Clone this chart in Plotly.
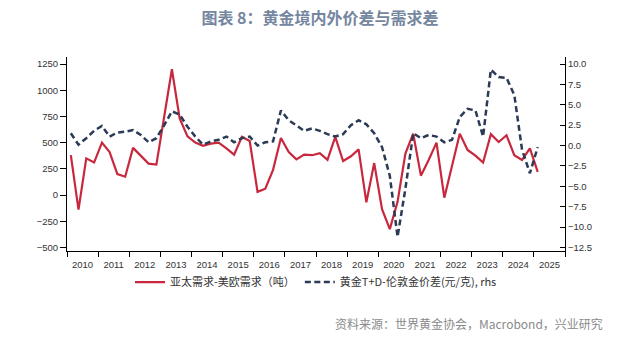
import pandas as pd
import plotly.graph_objects as go

quarters = [str(p) for p in pd.period_range("2010Q1", "2025Q1", freq="Q")]

demand_gap = [380, -140, 350, 310, 500, 410, 200, 175, 450, 370, 300, 290,
              740, 1200, 730, 560, 500, 470, 490, 500, 445, 385, 555, 515,
              30, 60, 240, 545, 410, 340, 385, 380, 400, 335, 555, 325,
              370, 435, -70, 305, -135, -325, -65, 395, 585, 185, 335, 500,
              -25, 270, 585, 430, 375, 310, 580, 505, 570, 380, 335, 445, 220]

price_gap = [1.5, 0.1, 0.9, 1.8, 2.4, 1.1, 1.6, 1.7, 1.9, 1.3, 0.4, 0.9,
             2.5, 4.2, 3.8, 2.3, 1.1, 0.1, 0.5, 0.7, 1.1, 0.4, 0.9, 1.1,
             0.0, 0.4, 0.5, 4.3, 3.1, 2.5, 1.8, 2.1, 1.8, 1.4, 1.1, 1.4,
             2.5, 3.1, 2.6, 1.5, -0.2, -3.7, -11.2, -5.3, 1.5, 0.9, 1.3, 1.1,
             0.4, 0.7, 3.5, 4.5, 4.3, 1.1, 9.3, 8.4, 8.3, 6.2, -0.5, -3.4, -0.2]

left_ticks = [-500, -250, 0, 250, 500, 750, 1000, 1250]
right_ticks = [-12.5, -10.0, -7.5, -5.0, -2.5, 0.0, 2.5, 5.0, 7.5, 10.0]

name_red = "亚太需求-美欧需求（吨）"
name_blue = "黄金T+D-伦敦金价差(元/克), rhs"
title_text = "图表 8：黄金境内外价差与需求差"
source_text = "资料来源：世界黄金协会，Macrobond，兴业研究"

# mid-quarter dates
x_dates = [pd.Period(q, freq="Q").start_time + pd.Timedelta(days=45) for q in quarters]

RED = "#C8283E"
NAVY = "#2B3A55"
FONT = "Noto Sans CJK SC"

fig = go.Figure()
fig.add_trace(go.Scatter(x=x_dates, y=demand_gap, name=name_red, mode="lines",
                         line=dict(color=RED, width=2.2), yaxis="y"))
fig.add_trace(go.Scatter(x=x_dates, y=price_gap, name=name_blue, mode="lines",
                         line=dict(color=NAVY, width=2.5, dash="6px,3.5px"), yaxis="y2"))

fig.update_layout(
    width=640, height=337,
    margin=dict(l=67, r=75, t=57, b=86),
    paper_bgcolor="white", plot_bgcolor="white",
    font=dict(family=FONT, size=10, color="#333"),
    showlegend=True,
    legend=dict(orientation="h", x=0.5, xanchor="center", y=-0.16, yanchor="middle",
                font=dict(family=FONT, size=11, color="#333"),
                itemwidth=30, tracegroupgap=0, bgcolor="rgba(0,0,0,0)"),
    title=dict(text="<b>" + title_text + "</b>", x=0.5, xanchor="center",
               y=1 - 18 / 337, yanchor="middle",
               font=dict(family=FONT, size=16, color="#7586A0")),
    xaxis=dict(type="date", range=["2010-01-01", "2026-01-01"],
               tick0="2010-01-01", dtick="M12", tickformat="%Y",
               ticklabelmode="period", ticks="outside", ticklen=5,
               tickcolor="black", showline=True, linecolor="black", linewidth=1,
               showgrid=False, zeroline=False,
               tickfont=dict(family="Liberation Sans", size=9.5, color="#333")),
    yaxis=dict(range=[-534, 1317], tickvals=left_ticks, ticks="outside", ticklen=6,
               tickcolor="black", showline=True, linecolor="black", linewidth=1,
               showgrid=False, zeroline=False,
               tickfont=dict(family="Liberation Sans", size=9.5, color="#333")),
    yaxis2=dict(range=[-12.94, 10.86], tickvals=right_ticks, tickformat=".1f",
                overlaying="y", side="right", ticks="inside", ticklen=5,
                tickcolor="black", showline=True, linecolor="black", linewidth=1,
                showgrid=False, zeroline=False,
                tickfont=dict(family="Liberation Sans", size=9.5, color="#333")),
)

fig.add_annotation(text=source_text, xref="paper", yref="paper",
                   x=(605 - 67) / (640 - 67 - 75), xanchor="right",
                   y=(251 - 323) / (337 - 57 - 86), yanchor="middle",
                   showarrow=False,
                   font=dict(family=FONT, size=12, color="#8A8A8A"))

fig.write_html("out.html")
